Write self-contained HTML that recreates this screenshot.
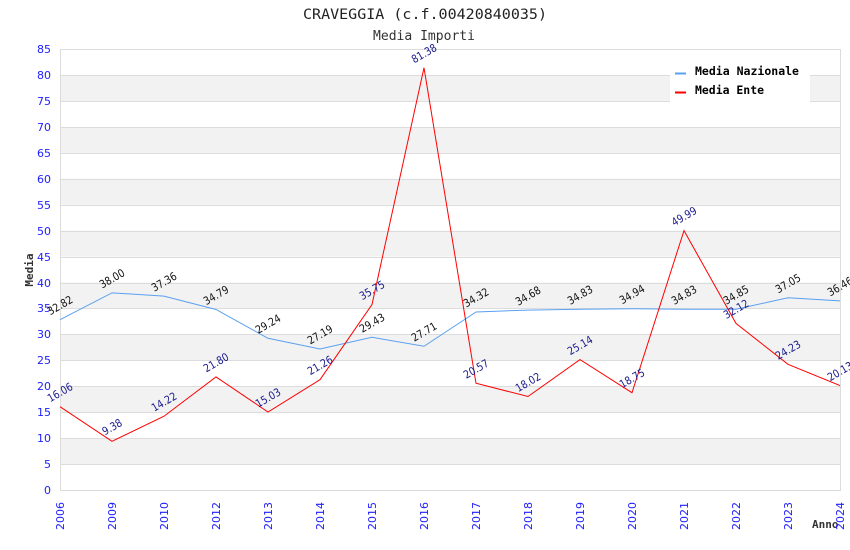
<!DOCTYPE html>
<html><head><meta charset="utf-8"><style>
html,body{margin:0;padding:0;background:#fff;}
svg{display:block;}
</style></head><body>
<svg width="850" height="550" xmlns="http://www.w3.org/2000/svg">
<rect width="850" height="550" fill="#fff"/>
<!-- bands -->
<g fill="#f2f2f2">
<rect x="60" y="75" width="780" height="25.94"/>
<rect x="60" y="126.88" width="780" height="25.94"/>
<rect x="60" y="178.76" width="780" height="25.94"/>
<rect x="60" y="230.65" width="780" height="25.94"/>
<rect x="60" y="282.53" width="780" height="25.94"/>
<rect x="60" y="334.41" width="780" height="25.94"/>
<rect x="60" y="386.29" width="780" height="25.94"/>
<rect x="60" y="438.12" width="780" height="25.94"/>
</g>
<g stroke="#dcdcdc" stroke-width="1">
<line x1="60" y1="49.5" x2="840" y2="49.5"/>
<line x1="60" y1="75.5" x2="840" y2="75.5"/>
<line x1="60" y1="101.5" x2="840" y2="101.5"/>
<line x1="60" y1="127.5" x2="840" y2="127.5"/>
<line x1="60" y1="153.5" x2="840" y2="153.5"/>
<line x1="60" y1="179.5" x2="840" y2="179.5"/>
<line x1="60" y1="205.5" x2="840" y2="205.5"/>
<line x1="60" y1="231.5" x2="840" y2="231.5"/>
<line x1="60" y1="257.5" x2="840" y2="257.5"/>
<line x1="60" y1="283.5" x2="840" y2="283.5"/>
<line x1="60" y1="308.5" x2="840" y2="308.5"/>
<line x1="60" y1="334.5" x2="840" y2="334.5"/>
<line x1="60" y1="360.5" x2="840" y2="360.5"/>
<line x1="60" y1="386.5" x2="840" y2="386.5"/>
<line x1="60" y1="412.5" x2="840" y2="412.5"/>
<line x1="60" y1="438.5" x2="840" y2="438.5"/>
<line x1="60" y1="464.5" x2="840" y2="464.5"/>
<line x1="60" y1="490.5" x2="840" y2="490.5"/>
<line x1="60.5" y1="49" x2="60.5" y2="491"/>
<line x1="840.5" y1="49" x2="840.5" y2="491"/>
</g>
<!-- legend -->
<rect x="670" y="58" width="140" height="44" fill="#fff"/>
<line x1="675" y1="73.5" x2="686" y2="73.5" stroke="#5aa0f0" stroke-width="2"/>
<line x1="675" y1="92.5" x2="686" y2="92.5" stroke="#ff0000" stroke-width="2"/>
<g font-family="'DejaVu Sans Mono','Liberation Mono',monospace" font-weight="bold" font-size="11.5" fill="#000">
<text x="695" y="75" textLength="104" lengthAdjust="spacingAndGlyphs">Media Nazionale</text>
<text x="695" y="94" textLength="69" lengthAdjust="spacingAndGlyphs">Media Ente</text>
</g>
<!-- titles -->
<g font-family="'DejaVu Sans Mono','Liberation Mono',monospace" fill="#222">
<text x="303" y="19" font-size="14" textLength="244" lengthAdjust="spacingAndGlyphs">CRAVEGGIA (c.f.00420840035)</text>
<text x="373" y="40" font-size="13" textLength="102" lengthAdjust="spacingAndGlyphs" fill="#333">Media Importi</text>
<text x="0" y="0" font-size="11" font-weight="bold" fill="#333" transform="translate(33,270) rotate(-90)" text-anchor="middle">Media</text>
<text x="812" y="528" font-size="11" font-weight="bold" fill="#333">Anno</text>
</g>
<!-- y ticks -->
<g font-family="'DejaVu Sans','Liberation Sans',sans-serif" font-size="11" fill="#2020ff" text-anchor="end">
<text x="51" y="53">85</text>
<text x="51" y="79">80</text>
<text x="51" y="105">75</text>
<text x="51" y="131">70</text>
<text x="51" y="157">65</text>
<text x="51" y="183">60</text>
<text x="51" y="209">55</text>
<text x="51" y="235">50</text>
<text x="51" y="261">45</text>
<text x="51" y="287">40</text>
<text x="51" y="312">35</text>
<text x="51" y="338">30</text>
<text x="51" y="364">25</text>
<text x="51" y="390">20</text>
<text x="51" y="416">15</text>
<text x="51" y="442">10</text>
<text x="51" y="468">5</text>
<text x="51" y="494">0</text>
</g>
<!-- x ticks -->
<g font-family="'DejaVu Sans','Liberation Sans',sans-serif" font-size="11" fill="#2020ff" text-anchor="end">
<text transform="translate(64,502) rotate(-90)">2006</text>
<text transform="translate(116,502) rotate(-90)">2009</text>
<text transform="translate(168,502) rotate(-90)">2010</text>
<text transform="translate(220,502) rotate(-90)">2012</text>
<text transform="translate(272,502) rotate(-90)">2013</text>
<text transform="translate(324,502) rotate(-90)">2014</text>
<text transform="translate(376,502) rotate(-90)">2015</text>
<text transform="translate(428,502) rotate(-90)">2016</text>
<text transform="translate(480,502) rotate(-90)">2017</text>
<text transform="translate(532,502) rotate(-90)">2018</text>
<text transform="translate(584,502) rotate(-90)">2019</text>
<text transform="translate(636,502) rotate(-90)">2020</text>
<text transform="translate(688,502) rotate(-90)">2021</text>
<text transform="translate(740,502) rotate(-90)">2022</text>
<text transform="translate(792,502) rotate(-90)">2023</text>
<text transform="translate(844,502) rotate(-90)">2024</text>
</g>
<!-- series -->
<polyline fill="none" stroke="#5aa0f0" stroke-width="1" points="60,319.72 112,292.85 164,296.17 216,309.5 268,338.3 320,348.93 372,337.31 424,346.24 476,311.94 528,310.07 580,309.3 632,308.73 684,309.3 736,309.19 788,297.78 840,300.84"/>
<polyline fill="none" stroke="#ff0000" stroke-width="1" points="60,406.68 112,441.34 164,416.22 216,376.9 268,412.02 320,379.7 372,304.52 424,67.78 476,383.28 528,396.51 580,359.57 632,392.72 684,230.64 736,323.36 788,364.29 840,385.56"/>
<!-- labels nazionale -->
<g font-family="'DejaVu Sans','Liberation Sans',sans-serif" font-size="11" fill="#111" text-anchor="middle">
<text transform="translate(60,305.2) rotate(-30)" dy="4" textLength="27" lengthAdjust="spacingAndGlyphs">32.82</text>
<text transform="translate(112,278.4) rotate(-30)" dy="4" textLength="27" lengthAdjust="spacingAndGlyphs">38.00</text>
<text transform="translate(164,281.7) rotate(-30)" dy="4" textLength="27" lengthAdjust="spacingAndGlyphs">37.36</text>
<text transform="translate(216,295.0) rotate(-30)" dy="4" textLength="27" lengthAdjust="spacingAndGlyphs">34.79</text>
<text transform="translate(268,323.8) rotate(-30)" dy="4" textLength="27" lengthAdjust="spacingAndGlyphs">29.24</text>
<text transform="translate(320,334.4) rotate(-30)" dy="4" textLength="27" lengthAdjust="spacingAndGlyphs">27.19</text>
<text transform="translate(372,322.8) rotate(-30)" dy="4" textLength="27" lengthAdjust="spacingAndGlyphs">29.43</text>
<text transform="translate(424,331.7) rotate(-30)" dy="4" textLength="27" lengthAdjust="spacingAndGlyphs">27.71</text>
<text transform="translate(476,297.4) rotate(-30)" dy="4" textLength="27" lengthAdjust="spacingAndGlyphs">34.32</text>
<text transform="translate(528,295.6) rotate(-30)" dy="4" textLength="27" lengthAdjust="spacingAndGlyphs">34.68</text>
<text transform="translate(580,294.8) rotate(-30)" dy="4" textLength="27" lengthAdjust="spacingAndGlyphs">34.83</text>
<text transform="translate(632,294.2) rotate(-30)" dy="4" textLength="27" lengthAdjust="spacingAndGlyphs">34.94</text>
<text transform="translate(684,294.8) rotate(-30)" dy="4" textLength="27" lengthAdjust="spacingAndGlyphs">34.83</text>
<text transform="translate(736,294.7) rotate(-30)" dy="4" textLength="27" lengthAdjust="spacingAndGlyphs">34.85</text>
<text transform="translate(788,283.3) rotate(-30)" dy="4" textLength="27" lengthAdjust="spacingAndGlyphs">37.05</text>
<text transform="translate(840,286.3) rotate(-30)" dy="4" textLength="27" lengthAdjust="spacingAndGlyphs">36.46</text>
</g>
<!-- labels ente -->
<g font-family="'DejaVu Sans','Liberation Sans',sans-serif" font-size="11" fill="#1a1a8c" text-anchor="middle">
<text transform="translate(60,392.2) rotate(-30)" dy="4" textLength="27" lengthAdjust="spacingAndGlyphs">16.06</text>
<text transform="translate(112,426.8) rotate(-30)" dy="4" textLength="21" lengthAdjust="spacingAndGlyphs">9.38</text>
<text transform="translate(164,401.7) rotate(-30)" dy="4" textLength="27" lengthAdjust="spacingAndGlyphs">14.22</text>
<text transform="translate(216,362.4) rotate(-30)" dy="4" textLength="27" lengthAdjust="spacingAndGlyphs">21.80</text>
<text transform="translate(268,397.5) rotate(-30)" dy="4" textLength="27" lengthAdjust="spacingAndGlyphs">15.03</text>
<text transform="translate(320,365.2) rotate(-30)" dy="4" textLength="27" lengthAdjust="spacingAndGlyphs">21.26</text>
<text transform="translate(372,290.0) rotate(-30)" dy="4" textLength="27" lengthAdjust="spacingAndGlyphs">35.75</text>
<text transform="translate(424,53.3) rotate(-30)" dy="4" textLength="27" lengthAdjust="spacingAndGlyphs">81.38</text>
<text transform="translate(476,368.8) rotate(-30)" dy="4" textLength="27" lengthAdjust="spacingAndGlyphs">20.57</text>
<text transform="translate(528,382.0) rotate(-30)" dy="4" textLength="27" lengthAdjust="spacingAndGlyphs">18.02</text>
<text transform="translate(580,345.1) rotate(-30)" dy="4" textLength="27" lengthAdjust="spacingAndGlyphs">25.14</text>
<text transform="translate(632,378.2) rotate(-30)" dy="4" textLength="27" lengthAdjust="spacingAndGlyphs">18.75</text>
<text transform="translate(684,216.1) rotate(-30)" dy="4" textLength="27" lengthAdjust="spacingAndGlyphs">49.99</text>
<text transform="translate(736,308.9) rotate(-30)" dy="4" textLength="27" lengthAdjust="spacingAndGlyphs">32.12</text>
<text transform="translate(788,349.8) rotate(-30)" dy="4" textLength="27" lengthAdjust="spacingAndGlyphs">24.23</text>
<text transform="translate(840,371.1) rotate(-30)" dy="4" textLength="27" lengthAdjust="spacingAndGlyphs">20.13</text>
</g>
</svg>
</body></html>
